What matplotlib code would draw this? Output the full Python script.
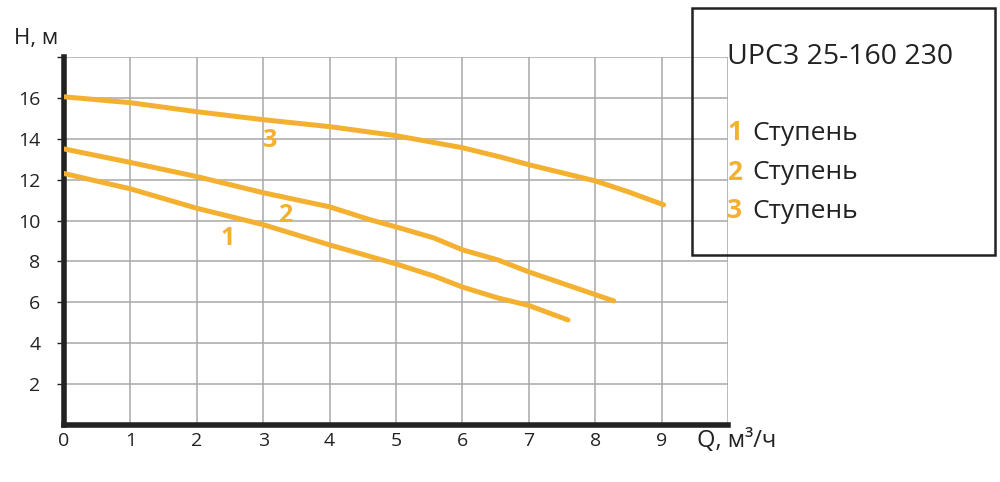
import matplotlib
matplotlib.use('Agg')
import matplotlib.pyplot as plt
from matplotlib.patches import Rectangle

plt.rcParams['font.family'] = ['Open Sans', 'DejaVu Sans']

orange = '#F4B030'

# pump curves, Q (m3/h) vs H (m)
q1 = [0, 1, 2, 3, 4, 5, 5.57, 6, 6.53, 7, 7.59]
h1 = [12.3, 11.55, 10.6, 9.8, 8.81, 7.88, 7.29, 6.75, 6.22, 5.85, 5.14]

q2 = [0, 1, 2, 3, 4, 4.62, 5, 5.57, 6, 6.53, 7, 8, 8.28]
h2 = [13.5, 12.84, 12.15, 11.36, 10.67, 10.03, 9.69, 9.15, 8.57, 8.08, 7.49, 6.38, 6.07]

q3 = [0, 1, 2, 3, 4, 5, 6, 6.58, 7, 8, 8.5, 9.03]
h3 = [16.05, 15.76, 15.32, 14.93, 14.59, 14.15, 13.56, 13.1, 12.73, 11.94, 11.4, 10.77]

curves = [(q1, h1), (q2, h2), (q3, h3)]
curve_labels = ['1', '2', '3']
label_pos = [(2.46, 9.1), (3.33, 10.25), (3.1, 13.9)]

x_ticks = list(range(0, 10))
y_ticks = [2, 4, 6, 8, 10, 12, 14, 16]

title = 'UPC3 25-160 230'
legend_text = 'Ступень'

fig = plt.figure(figsize=(10, 4.82), dpi=100)
ax = fig.add_axes([0.064, 0.118, 0.664, 0.764])

for q, h in curves:
    ax.plot(q, h, color=orange, linewidth=3.6, solid_capstyle='round', zorder=3)

for lab, (x, y) in zip(curve_labels, label_pos):
    ax.text(x, y, lab, color=orange, fontsize=18, fontweight='bold',
            ha='center', va='center', zorder=4)

ax.set_xlim(0, 10)
ax.set_ylim(0, 18)
ax.set_xticks(range(0, 11))
ax.set_yticks(range(2, 19, 2))
ax.grid(True, color='#a8a8a8', linewidth=1.1, zorder=0)
ax.set_xticklabels([str(t) if t in x_ticks else '' for t in range(0, 11)], fontsize=14)
ax.set_yticklabels([str(t) if t in y_ticks else '' for t in range(2, 19, 2)], fontsize=14)
ax.tick_params(axis='x', length=0, pad=5, colors='#222222')
ax.tick_params(axis='y', length=5, width=1, pad=12, colors='#222222')

ax.spines['left'].set_linewidth(4)
ax.spines['bottom'].set_linewidth(4)
ax.spines['left'].set_color('#222222')
ax.spines['bottom'].set_color('#222222')
ax.spines['top'].set_visible(False)
ax.spines['right'].set_visible(False)

fig.text(0.014, 0.92, 'H, м', fontsize=16, color='#222222', va='center')
fig.text(0.697, 0.085, 'Q, м³/ч', fontsize=17, color='#222222', va='center')

# legend box
box = Rectangle((0.692, 1 - 255 / 482), 0.303, (255 - 8) / 482,
                transform=fig.transFigure, fill=False, edgecolor='#222222', linewidth=1.8)
fig.patches.append(box)
fig.text(0.727, 1 - 57 / 482, title, fontsize=20.5, color='#222222', va='center')
for i, y in enumerate([133, 172, 211]):
    fig.text(0.727, 1 - y / 482, curve_labels[i], fontsize=19, color=orange,
             fontweight='bold', va='center')
    fig.text(0.752, 1 - y / 482, legend_text, fontsize=19, color='#222222', va='center')

fig.savefig('out.png', dpi=100)
